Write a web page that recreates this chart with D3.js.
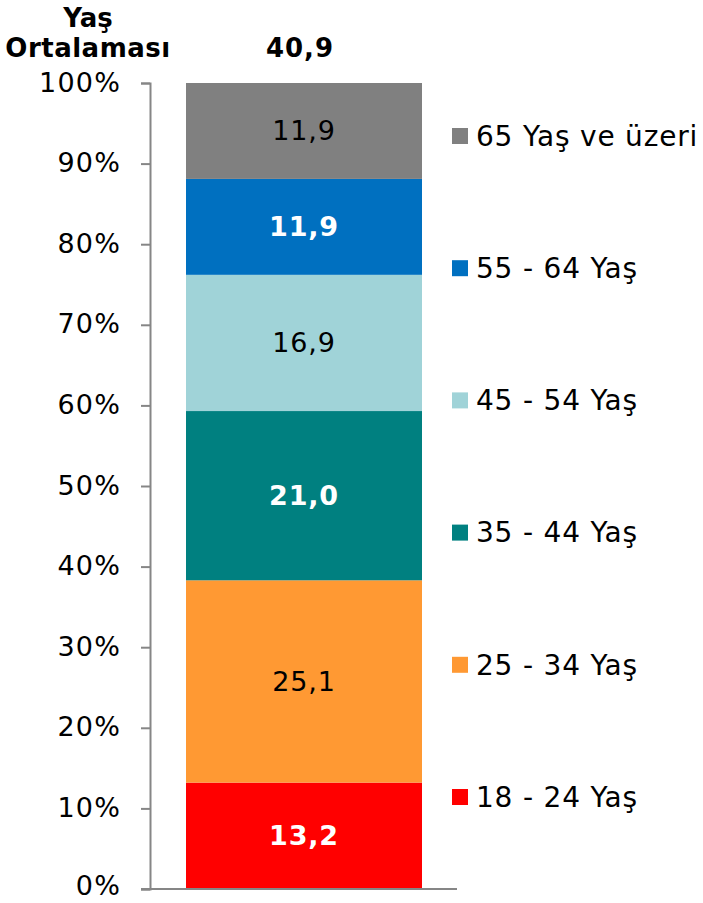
<!DOCTYPE html>
<html>
<head>
<meta charset="utf-8">
<script src="https://cdn.jsdelivr.net/npm/d3@7"></script>
<style>
  body { margin: 0; background: #fff; }
  svg { font-family: "DejaVu Sans", Verdana, sans-serif; }
</style>
</head>
<body>
<svg width="703" height="903"></svg>
<script>
// age groups, bottom to top
var groups = ["18 - 24 Yaş", "25 - 34 Yaş", "35 - 44 Yaş", "45 - 54 Yaş", "55 - 64 Yaş", "65 Yaş ve üzeri"];
var values = [13.2, 25.1, 21.0, 16.9, 11.9, 11.9];
var colors = ["#ff0000", "#ff9933", "#008080", "#a0d3d8", "#0070c0", "#808080"];
var boldLabel = [true, false, true, false, true, false];
var yTicks = [0, 10, 20, 30, 40, 50, 60, 70, 80, 90, 100];
var average = "40,9";

var svg = d3.select("svg");

var y = d3.scaleLinear().domain([0, 100]).range([889, 83]);

// stack
var stacked = [];
var acc = 0;
values.forEach(function(v, i) {
  stacked.push({group: groups[i], v: v, y0: acc, y1: acc + v, color: colors[i], bold: boldLabel[i]});
  acc += v;
});

var bx = 186, bw = 236;

svg.selectAll("rect.seg")
    .data(stacked)
  .enter().append("rect")
    .attr("class", "seg")
    .attr("x", bx)
    .attr("width", bw)
    .attr("y", function(d) { return y(d.y1); })
    .attr("height", function(d) { return y(d.y0) - y(d.y1); })
    .style("fill", function(d) { return d.color; });

svg.selectAll("text.seg")
    .data(stacked)
  .enter().append("text")
    .attr("x", bx + bw / 2)
    .attr("y", function(d) { return (y(d.y0) + y(d.y1)) / 2; })
    .attr("dy", ".35em")
    .attr("text-anchor", "middle")
    .style("font-size", "27px")
    .style("letter-spacing", "0.8px")
    .style("font-weight", function(d) { return d.bold ? "bold" : "normal"; })
    .style("fill", function(d) { return d.bold ? "#fff" : "#000"; })
    .text(function(d) { return d3.format(".1f")(d.v).replace(".", ","); });

// y axis
var yAxis = d3.axisLeft(y)
    .tickValues(yTicks)
    .tickSize(9)
    .tickSizeOuter(9)
    .tickPadding(20)
    .tickFormat(function(d) { return d + "%"; });

var ax = svg.append("g")
    .attr("transform", "translate(150,0)")
    .call(yAxis);
ax.selectAll("path, line").style("stroke", "#868686").style("stroke-width", 2);
ax.selectAll("text")
    .attr("dy", "0.3em")
    .style("font-size", "27px")
    .style("letter-spacing", "1.2px")
    .style("fill", "#000")
    .style("font-family", "DejaVu Sans, Verdana, sans-serif");
// keep the 0% label inside the page
ax.selectAll(".tick").filter(function(d) { return d === 0; })
    .select("text").attr("y", -3);

// baseline
svg.append("line")
    .attr("x1", 141).attr("x2", 457)
    .attr("y1", y(0)).attr("y2", y(0))
    .style("stroke", "#868686")
    .style("stroke-width", 2);

// header
svg.append("text")
    .attr("x", 88).attr("y", 27)
    .attr("text-anchor", "middle")
    .style("font-size", "26px").style("font-weight", "bold")
    .text("Yaş");
svg.append("text")
    .attr("x", 88).attr("y", 57)
    .attr("text-anchor", "middle")
    .style("font-size", "26px").style("font-weight", "bold")
    .style("letter-spacing", "0.5px")
    .text("Ortalaması");
svg.append("text")
    .attr("x", bx + bw / 2 - 4).attr("y", 57)
    .attr("text-anchor", "middle")
    .style("font-size", "26px").style("font-weight", "bold")
    .style("letter-spacing", "1px")
    .text(average);

// legend, top item first
var legendData = stacked.slice().reverse();
var ly = d3.scalePoint().domain(legendData.map(function(d) { return d.group; })).range([136, 797]);

var lg = svg.selectAll("g.legend")
    .data(legendData)
  .enter().append("g")
    .attr("class", "legend")
    .attr("transform", function(d) { return "translate(452," + ly(d.group) + ")"; });

lg.append("rect")
    .attr("x", 0).attr("y", -8)
    .attr("width", 16).attr("height", 16)
    .style("fill", function(d) { return d.color; });

lg.append("text")
    .attr("x", 24)
    .attr("dy", ".35em")
    .style("font-size", "28px")
    .style("letter-spacing", "0.8px")
    .text(function(d) { return d.group; });
</script>
</body>
</html>
